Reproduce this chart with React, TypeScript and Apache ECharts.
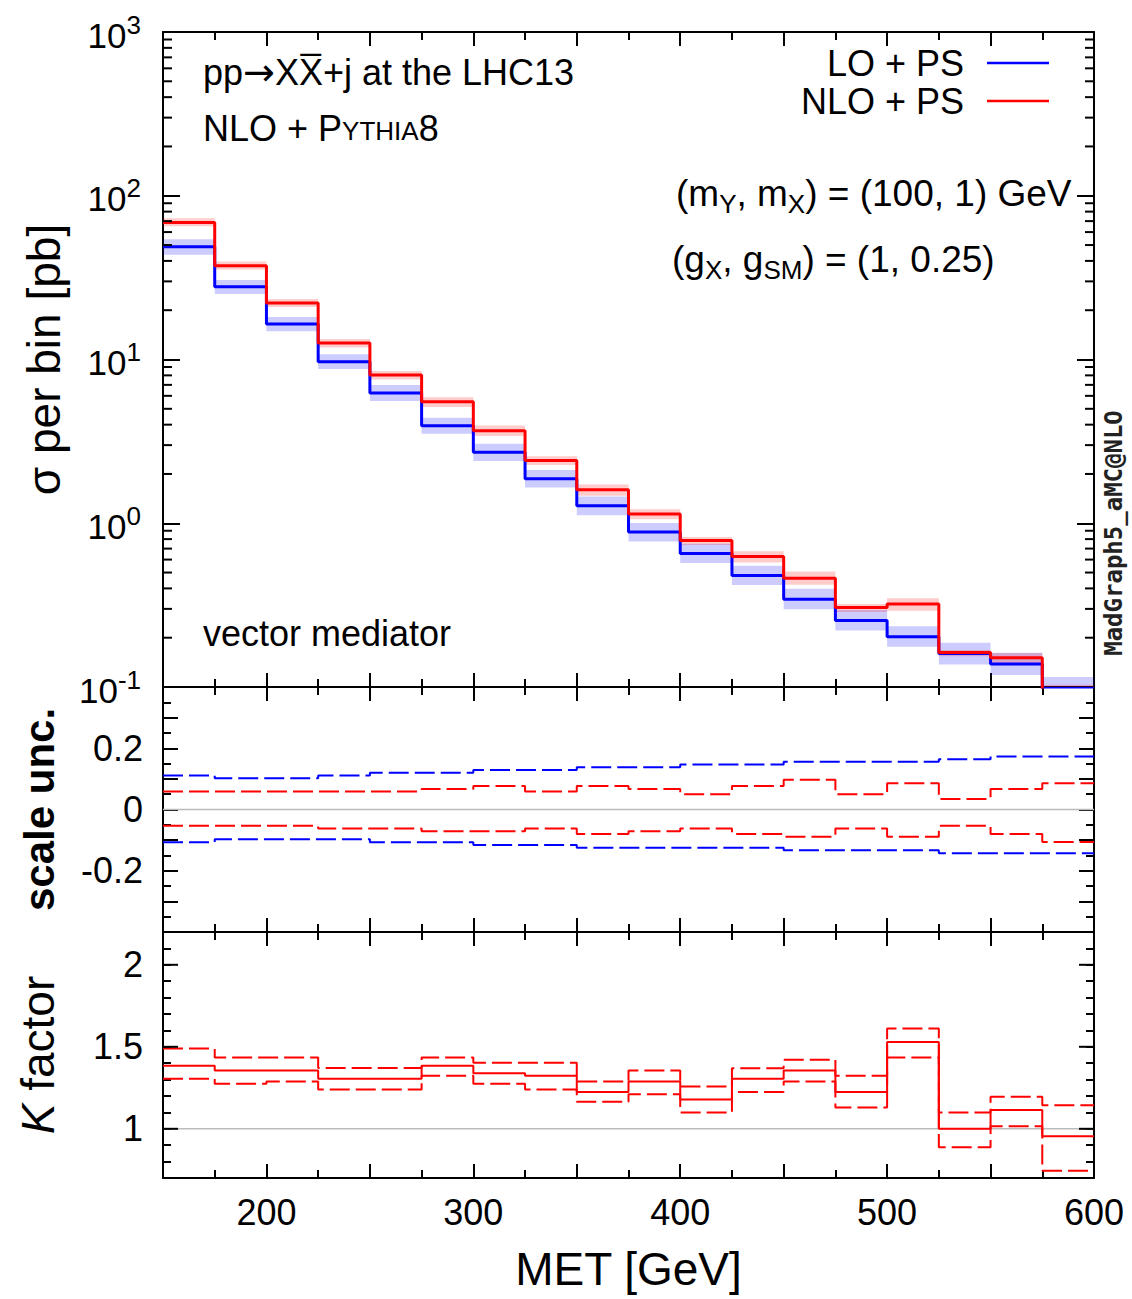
import React, { useEffect, useRef } from "react";
import * as echarts from "echarts";

// ---------------- data ----------------
const binEdges = [150, 175, 200, 225, 250, 275, 300, 325, 350, 375, 400, 425, 450, 475, 500, 525, 550, 575, 600];

// sigma per bin [pb]
const loCentral = [48.8, 27.8, 16.5, 9.69, 6.24, 3.94, 2.71, 1.87, 1.28, 0.883, 0.654, 0.48, 0.344, 0.255, 0.203, 0.16, 0.138, 0.098];
const nloCentral = [68.7, 37.4, 22.1, 12.6, 8.04, 5.52, 3.67, 2.42, 1.6, 1.14, 0.785, 0.627, 0.462, 0.306, 0.321, 0.1625, 0.151, 0.095];

// relative scale uncertainty
const loUp = [0.111, 0.102, 0.102, 0.111, 0.12, 0.12, 0.129, 0.129, 0.138, 0.138, 0.147, 0.147, 0.156, 0.156, 0.156, 0.164, 0.173, 0.173];
const loDn = [-0.107, -0.097, -0.097, -0.097, -0.107, -0.107, -0.116, -0.116, -0.125, -0.125, -0.125, -0.125, -0.133, -0.133, -0.133, -0.143, -0.143, -0.143];
const nloUp = [0.059, 0.059, 0.059, 0.059, 0.059, 0.067, 0.077, 0.059, 0.077, 0.067, 0.05, 0.077, 0.097, 0.05, 0.086, 0.034, 0.067, 0.086];
const nloDn = [-0.053, -0.053, -0.053, -0.062, -0.062, -0.071, -0.071, -0.062, -0.08, -0.071, -0.062, -0.08, -0.089, -0.062, -0.089, -0.053, -0.08, -0.106];

// K factor
const kCentral = [1.385, 1.355, 1.355, 1.305, 1.305, 1.385, 1.339, 1.323, 1.225, 1.289, 1.178, 1.305, 1.355, 1.225, 1.529, 1.0, 1.114, 0.954];
const kUp = [1.489, 1.435, 1.435, 1.371, 1.371, 1.435, 1.403, 1.403, 1.289, 1.355, 1.258, 1.369, 1.421, 1.323, 1.611, 1.099, 1.195, 1.144];
const kDn = [1.305, 1.275, 1.289, 1.24, 1.24, 1.323, 1.275, 1.24, 1.165, 1.21, 1.099, 1.225, 1.289, 1.13, 1.435, 0.888, 1.016, 0.744];

// tick labels
const xTickLabels = [200, 300, 400, 500, 600];
const uncTickLabels = [-0.2, 0, 0.2];
const kTickLabels = [1, 1.5, 2];
const logDecades = [-1, 0, 1, 2];
const kMajorTicks = [1, 1.5, 2];

const FONT = "'Liberation Sans', Arial, Helvetica, sans-serif";
const BLUE = "#0000ff";
const RED = "#ff0000";

function stepData(vals: number[]) {
  const d: number[][] = vals.map((v, i) => [binEdges[i], v]);
  d.push([binEdges[binEdges.length - 1], vals[vals.length - 1]]);
  return d;
}

function bandData(central: number[], up: number[], dn: number[]) {
  return central.map((c, i) => [binEdges[i], binEdges[i + 1], c * (1 + dn[i]), c * (1 + up[i])]);
}

export default function App() {
  const ref = useRef<HTMLDivElement>(null);

  useEffect(() => {
    if (!ref.current) return;
    const chart = echarts.init(ref.current, null, { renderer: "svg" });

    const grids = [
      { left: 163, top: 32, width: 931, height: 655 },
      { left: 163, top: 687, width: 931, height: 245 },
      { left: 163, top: 932, width: 931, height: 246 },
    ];

    const axisLine = { show: true, onZero: false, lineStyle: { color: "#000", width: 2 } };

    const xAxes: any[] = [];
    grids.forEach((_, g) => {
      ["bottom", "top"].forEach((pos) => {
        const showLabel = g === 2 && pos === "bottom";
        xAxes.push({
          type: "value",
          gridIndex: g,
          position: pos,
          min: 150,
          max: 600,
          interval: 50,
          axisLine,
          axisTick: { show: true, inside: true, length: 14, lineStyle: { color: "#000", width: 2 } },
          minorTick: { show: true, splitNumber: 2, length: 8, lineStyle: { color: "#000", width: 2 } },
          splitLine: { show: false },
          axisLabel: {
            show: showLabel,
            interval: 0,
            showMinLabel: true,
            showMaxLabel: true,
            margin: 16,
            fontSize: 36,
            fontFamily: FONT,
            color: "#000",
            formatter: (v: number) => (xTickLabels.includes(Math.round(v)) ? String(Math.round(v)) : ""),
          },
          name: showLabel ? "MET [GeV]" : "",
          nameLocation: "middle",
          nameGap: 68,
          nameTextStyle: { fontSize: 46, fontFamily: FONT, color: "#000" },
        });
      });
    });

    const yAxes: any[] = [];
    // top panel (log)
    ["left", "right"].forEach((pos) => {
      yAxes.push({
        type: "log",
        logBase: 10,
        gridIndex: 0,
        position: pos,
        min: 0.1,
        max: 1000,
        splitNumber: 4,
        axisLine,
        axisTick: { show: true, inside: true, length: 17, lineStyle: { color: "#000", width: 2 } },
        splitLine: { show: false },
        axisLabel: {
          show: pos === "left",
          margin: 22,
          fontFamily: FONT,
          color: "#000",
          formatter: (v: number) => `{b|10}{s|${Math.round(Math.log10(v))}}`,
          rich: {
            b: { fontSize: 35, fontFamily: FONT, color: "#000", padding: [6, 0, 0, 0], verticalAlign: "top" },
            s: { fontSize: 26, fontFamily: FONT, color: "#000", verticalAlign: "top" },
          },
        },
        name: pos === "left" ? "σ per bin [pb]" : "",
        nameLocation: "middle",
        nameGap: 96,
        nameTextStyle: { fontSize: 46, fontFamily: FONT, color: "#000" },
      });
    });
    // middle panel
    ["left", "right"].forEach((pos) => {
      yAxes.push({
        type: "value",
        gridIndex: 1,
        position: pos,
        min: -0.4,
        max: 0.4,
        interval: 0.1,
        axisLine,
        axisTick: { show: true, inside: true, length: 15, lineStyle: { color: "#000", width: 2 } },
        minorTick: { show: true, splitNumber: 2, length: 8, lineStyle: { color: "#000", width: 2 } },
        splitLine: { show: false },
        axisLabel: {
          show: pos === "left",
          margin: 20,
          fontSize: 36,
          fontFamily: FONT,
          color: "#000",
          formatter: (v: number) => {
            const m = uncTickLabels.find((t) => Math.abs(t - v) < 1e-9);
            return m === undefined ? "" : String(m);
          },
        },
        name: pos === "left" ? "scale unc." : "",
        nameLocation: "middle",
        nameGap: 103,
        nameTextStyle: { fontSize: 42, fontWeight: "bold", fontFamily: FONT, color: "#000" },
      });
    });
    // bottom panel
    ["left", "right"].forEach((pos) => {
      yAxes.push({
        type: "value",
        gridIndex: 2,
        position: pos,
        min: 0.7,
        max: 2.2,
        interval: 0.1,
        axisLine,
        axisTick: { show: true, inside: true, length: 8, lineStyle: { color: "#000", width: 2 } },
        splitLine: { show: false },
        axisLabel: {
          show: pos === "left",
          margin: 20,
          fontSize: 36,
          fontFamily: FONT,
          color: "#000",
          formatter: (v: number) => {
            const m = kTickLabels.find((t) => Math.abs(t - v) < 1e-9);
            return m === undefined ? "" : String(m);
          },
        },
        name: pos === "left" ? "{k|K} factor" : "",
        nameLocation: "middle",
        nameGap: 102,
        nameTextStyle: {
          fontSize: 46,
          fontFamily: FONT,
          color: "#000",
          rich: { k: { fontSize: 46, fontStyle: "italic", fontFamily: FONT, color: "#000" } },
        },
      });
    });

    const tickSeries = (g: number, yIdx: number, values: number[], len: number) => ({
      type: "custom",
      xAxisIndex: 2 * g,
      yAxisIndex: yIdx,
      silent: true,
      z: 5,
      data: values.map((v) => [binEdges[0], v]),
      encode: { x: 0, y: 1 },
      renderItem: (params: any, api: any) => {
        const y = api.coord([api.value(0), api.value(1)])[1];
        const cs = params.coordSys;
        const st = { stroke: "#000", lineWidth: 2 };
        return {
          type: "group",
          children: [
            { type: "line", shape: { x1: cs.x, y1: y, x2: cs.x + len, y2: y }, style: st },
            { type: "line", shape: { x1: cs.x + cs.width - len, y1: y, x2: cs.x + cs.width, y2: y }, style: st },
          ],
        };
      },
    });

    const bandSeries = (data: number[][], color: string) => ({
      type: "custom",
      xAxisIndex: 0,
      yAxisIndex: 0,
      silent: true,
      data,
      encode: { x: [0, 1], y: [2, 3] },
      renderItem: (params: any, api: any) => {
        const p0 = api.coord([api.value(0), api.value(3)]);
        const p1 = api.coord([api.value(1), api.value(2)]);
        const cs = params.coordSys;
        const r = echarts.graphic.clipRectByRect(
          { x: p0[0], y: p0[1], width: p1[0] - p0[0], height: p1[1] - p0[1] },
          { x: cs.x, y: cs.y, width: cs.width, height: cs.height }
        );
        return r ? { type: "rect", shape: r, style: { fill: color } } : null;
      },
    });

    const stepLine = (name: string, vals: number[], color: string, g: number, yIdx: number, width: number, dashed: boolean) => ({
      name,
      type: "line",
      step: "end",
      xAxisIndex: 2 * g,
      yAxisIndex: yIdx,
      data: stepData(vals),
      symbol: "none",
      showSymbol: false,
      clip: true,
      silent: true,
      lineStyle: { color, width, type: dashed ? [20, 6] : "solid" },
      itemStyle: { color },
      z: 3,
    });

    const refLine = (g: number, yIdx: number, v: number) => ({
      type: "line",
      xAxisIndex: 2 * g,
      yAxisIndex: yIdx,
      data: [[binEdges[0], v], [binEdges[binEdges.length - 1], v]],
      symbol: "none",
      silent: true,
      lineStyle: { color: "#bbbbbb", width: 1.5 },
      z: 1,
    });

    const logMinor: number[] = [];
    logDecades.forEach((k) => {
      for (let m = 2; m <= 9; m++) logMinor.push(m * Math.pow(10, k));
    });

    const option: any = {
      animation: false,
      backgroundColor: "#ffffff",
      grid: grids,
      xAxis: xAxes,
      yAxis: yAxes,
      legend: {
        data: ["LO + PS", "NLO + PS"],
        orient: "vertical",
        right: 78,
        top: 40,
        align: "right",
        icon: "rect",
        itemWidth: 62,
        itemHeight: 2.5,
        itemGap: 2,
        selectedMode: false,
        textStyle: { fontSize: 36, fontFamily: FONT, color: "#000", padding: [0, 18, 0, 0] },
      },
      series: [
        bandSeries(bandData(loCentral, loUp, loDn), "rgba(0,0,255,0.2)"),
        bandSeries(bandData(nloCentral, nloUp, nloDn), "rgba(255,0,0,0.2)"),
        stepLine("LO + PS", loCentral, BLUE, 0, 0, 3, false),
        stepLine("NLO + PS", nloCentral, RED, 0, 0, 3, false),
        tickSeries(0, 0, logMinor, 9),
        refLine(1, 2, 0),
        stepLine("LO up", loUp, BLUE, 1, 2, 2, true),
        stepLine("LO down", loDn, BLUE, 1, 2, 2, true),
        stepLine("NLO up", nloUp, RED, 1, 2, 2, true),
        stepLine("NLO down", nloDn, RED, 1, 2, 2, true),
        refLine(2, 4, 1),
        stepLine("K up", kUp, RED, 2, 4, 2, true),
        stepLine("K down", kDn, RED, 2, 4, 2, true),
        stepLine("K", kCentral, RED, 2, 4, 2, false),
        tickSeries(2, 4, kMajorTicks, 15),
      ],
      graphic: [
        {
          type: "text",
          x: 203,
          y: 72,
          style: {
            text: "{a|pp}{r|\u2192}{a|XX\u0305+j at the LHC13}",
            align: "left",
            verticalAlign: "middle",
            rich: {
              a: { fontSize: 36, fontFamily: FONT, fill: "#000" },
              r: { fontSize: 38, fontFamily: "'DejaVu Sans', sans-serif", fill: "#000" },
            },
          },
        },
        {
          type: "text",
          x: 203,
          y: 128,
          style: {
            text: "{a|NLO + P}{b|YTHIA}{a|8}",
            align: "left",
            verticalAlign: "middle",
            rich: {
              a: { fontSize: 36, fontFamily: FONT, fill: "#000", verticalAlign: "bottom" },
              b: { fontSize: 26, fontFamily: FONT, fill: "#000", verticalAlign: "bottom", padding: [0, 0, 2, 0] },
            },
          },
        },
        {
          type: "text",
          x: 676,
          y: 196,
          style: {
            text: "{a|(m}{s|Y}{a|, m}{s|X}{a|) = (100, 1) GeV}",
            align: "left",
            verticalAlign: "middle",
            rich: {
              a: { fontSize: 37, fontFamily: FONT, fill: "#000", verticalAlign: "top" },
              s: { fontSize: 26, fontFamily: FONT, fill: "#000", verticalAlign: "top", padding: [16, 0, 0, 0] },
            },
          },
        },
        {
          type: "text",
          x: 672,
          y: 262,
          style: {
            text: "{a|(g}{s|X}{a|, g}{s|SM}{a|) = (1, 0.25)}",
            align: "left",
            verticalAlign: "middle",
            rich: {
              a: { fontSize: 37, fontFamily: FONT, fill: "#000", verticalAlign: "top" },
              s: { fontSize: 26, fontFamily: FONT, fill: "#000", verticalAlign: "top", padding: [16, 0, 0, 0] },
            },
          },
        },
        {
          type: "text",
          x: 203,
          y: 633,
          style: { text: "vector mediator", font: `36px ${FONT}`, fill: "#000", align: "left", verticalAlign: "middle" },
        },
        {
          type: "text",
          x: 1114,
          y: 533,
          rotation: Math.PI / 2,
          style: {
            text: "MadGraph5_aMC@NLO",
            font: `bold 24px 'DejaVu Sans Mono', 'Liberation Mono', monospace`,
            fill: "#222",
            align: "center",
            verticalAlign: "middle",
          },
        },
      ],
    };

    chart.setOption(option);
    return () => chart.dispose();
  }, []);

  return (
    <div
      ref={ref}
      style={{ position: "absolute", left: 0, top: 0, width: 1132, height: 1299, background: "#fff" }}
    />
  );
}
